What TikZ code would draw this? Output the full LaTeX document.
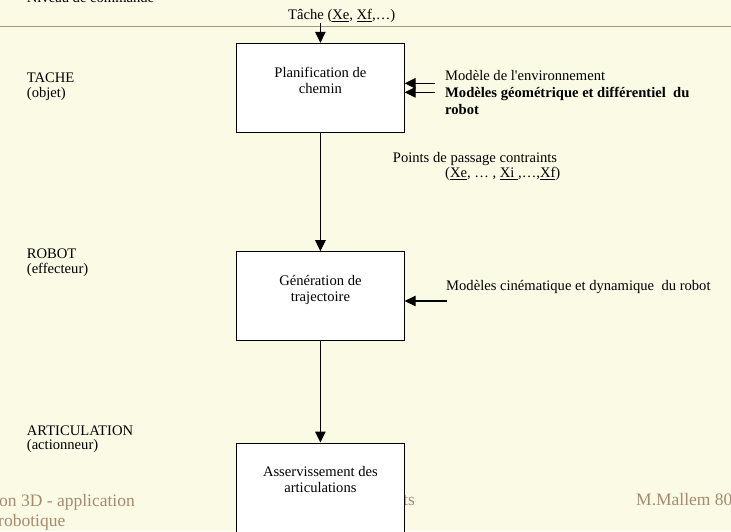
\documentclass[tikz,border=0pt]{standalone}
\usepackage{fontspec}
\setmainfont{Liberation Serif}[Ligatures=TeXOff]
\usetikzlibrary{arrows.meta, positioning, calc}
\definecolor{fondcreme}{HTML}{FBFAE5}
\definecolor{filetbrun}{HTML}{A8957A}
\definecolor{piedbrun}{HTML}{A48B70}
\newcommand{\haut}{\rule{0pt}{14pt}}

\begin{document}
\begin{tikzpicture}[
    x=1pt, y=-1pt,
    boite/.style={draw, fill=white, line width=1pt, minimum width=167.5pt, inner sep=0pt},
    texte/.style={font=\fontsize{14.6}{15.7}\selectfont, inner sep=0pt, anchor=north west, align=left},
    gauche/.style={texte, font=\fontsize{14.6}{15}\selectfont},
    intitule/.style={texte, anchor=north, align=center},
    pied/.style={font=\fontsize{17.5}{20}\selectfont, text=piedbrun, anchor=base west, inner sep=0pt},
    filet/.style={filetbrun, line width=1.3pt},
    fleche/.style={-{Triangle[length=11pt, width=10.5pt]}, line width=1.1pt},
  ]
  \path[use as bounding box, clip] (0,0) rectangle (731,531);
  \fill[fondcreme] (0,0) rectangle (731,531);
  \draw[filet] (0,26.7) -- (731,26.7);

  \node[texte] (niveau) at (26.7,-11.5) {\haut Niveau de commande};
  \node[texte] (tache) at (288,5.5) {\haut Tâche (\underline{Xe}, \underline{Xf},…)};

  % niveaux
  \node[gauche] (objet) at (26.7,68.3) {\haut TACHE\\(objet)};
  \node[gauche] (effecteur) at (26.7,244) {\haut ROBOT\\(effecteur)};
  \node[gauche, font=\fontsize{14.6}{14.5}\selectfont] (actionneur) at (26.7,421) {\haut ARTICULATION\\(actionneur)};

  % pied de page
  \node[pied] (piedA) at (-1,506) {on 3D - application};
  \node[pied] (piedB) at (-2,526) {robotique};
  \node[pied] (piedC) at (403,505) {ts};
  \node[pied] (piedD) at (636,505) {M.Mallem 80};

  % blocs
  \node[boite, minimum height=89pt] (plan) at (320.4,87.8) {};
  \node[boite, minimum height=89pt] (gen) at (320.4,296.2) {};
  \node[boite, minimum height=117pt] (asserv) at (320.4,501.5) {};

  \node[intitule] (planT) at ($(plan.north)+(0,20.3)$) {\haut Planification de\\chemin};
  \node[intitule] (genT) at ($(gen.north)+(0,20.3)$) {\haut Génération de\\trajectoire};
  \node[intitule] (asservT) at ($(asserv.north)+(0,20)$) {\haut Asservissement des\\articulations};

  \node[texte, font=\fontsize{14.6}{17}\selectfont] (envir) at (445,66)
    {\haut Modèle de l'environnement\\\textbf{Modèles géométrique et différentiel\ \ du}\\\textbf{robot}};
  \node[texte, font=\fontsize{14.6}{14.6}\selectfont] (passage) at (392.7,148.7)
    {\haut Points de passage contraints\\\hspace*{52.3pt}(\underline{Xe}, … , \underline{Xi\ },…,\underline{Xf})};
  \node[texte] (cinem) at (446,276) {\haut Modèles cinématique et dynamique\ \ du robot};

  \coordinate (envA) at (435,83.3);
  \coordinate (geomA) at (435,92.3);
  \coordinate (cinA) at (447,301);

  \draw[fleche] (tache.south -| plan.north) -- (plan.north);
  \draw[fleche] (envA) -- (envA -| plan.east);
  \draw[fleche] (geomA) -- (geomA -| plan.east);
  \draw[fleche] (plan) -- (gen);
  \draw[fleche] (cinA) -- (cinA -| gen.east);
  \draw[fleche] (gen) -- (asserv);
\end{tikzpicture}
\end{document}
